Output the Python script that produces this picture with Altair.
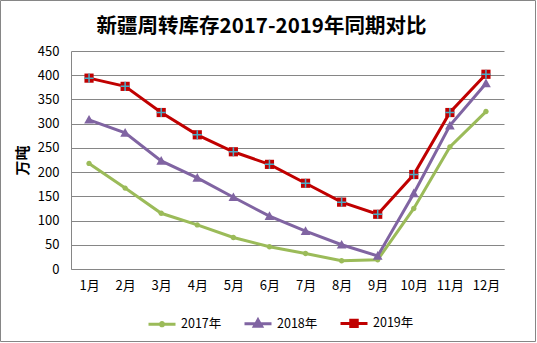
import altair as alt
import pandas as pd

months = ["1月", "2月", "3月", "4月", "5月", "6月", "7月", "8月", "9月", "10月", "11月", "12月"]
years = ["2017年", "2018年", "2019年"]
v2017 = [218, 167, 115, 91, 65, 46, 32, 17, 19, 125, 252, 325]
v2018 = [308, 281, 223, 188, 148, 109, 78, 50, 27, 156, 296, 383]
v2019 = [394, 377, 323, 277, 242, 216, 177, 138, 113, 195, 323, 402]
colors = ["#9BBB59", "#8064A2", "#C00000"]
y_ticks = [0, 50, 100, 150, 200, 250, 300, 350, 400, 450]

rows = []
for yr, vals in zip(years, [v2017, v2018, v2019]):
    for m, v in zip(months, vals):
        rows.append({"month": m, "year": yr, "value": v})
df = pd.DataFrame(rows)

FONT = "Noto Sans CJK SC"
GRAY = "#868686"
SYM = 729

# plot markers (filled)
shape_paths = [
    "M-0.2,0A0.2,0.2 0 1,0 0.2,0A0.2,0.2 0 1,0 -0.2,0Z",
    "M0,-0.36L0.36,0.28L-0.36,0.28Z",
    "M-0.34,-0.34H0.34V0.34H-0.34Z",
]
# legend symbols: line segment with marker (stroked)
legend_paths = [
    "M-1,0H1M-0.12,0A0.12,0.12 0 1,0 0.12,0A0.12,0.12 0 1,0 -0.12,0Z",
    "M-1,0H1M0,-0.28L0.27,0.2L-0.27,0.2ZM0,-0.08L0.08,0.06L-0.08,0.06Z",
    "M-1,0H1M-0.24,-0.24H0.24V0.24H-0.24ZM-0.08,-0.08H0.08V0.08H-0.08Z",
]

x_enc = alt.X("month:N", sort=months, scale=alt.Scale(type="point", padding=0.5),
              axis=alt.Axis(title=None, labelAngle=0, ticks=False, grid=False,
                            domainColor=GRAY, labelFont=FONT, labelFontSize=13,
                            labelColor="#000000", labelPadding=10))
y_enc = alt.Y("value:Q", scale=alt.Scale(domain=[0, 450], nice=False),
              axis=alt.Axis(values=y_ticks, title="万吨", ticks=False, gridColor=GRAY,
                            domainColor=GRAY, labelFont=FONT, labelFontSize=13,
                            labelColor="#000000", labelPadding=12,
                            titleFont=FONT, titleFontSize=15, titleFontWeight="bold",
                            titleColor="#000000", titleAngle=270, titleX=-49, titleY=109,
                            titleAlign="center", titleBaseline="middle"))

leg = alt.Legend(title=None, orient="none", legendX=76, legendY=257, direction="horizontal",
                 symbolSize=SYM, symbolStrokeWidth=3, labelFont=FONT, labelFontSize=12.5,
                 labelColor="#000000", columnPadding=16, labelOffset=4)

base = alt.Chart(df)

lines = base.mark_line(strokeWidth=3).encode(
    x=x_enc, y=y_enc,
    color=alt.Color("year:N", scale=alt.Scale(domain=years, range=colors), legend=None),
)

points = base.mark_point(filled=True, size=SYM, opacity=1, strokeWidth=0).encode(
    x=x_enc, y=y_enc,
    color=alt.Color("year:N", scale=alt.Scale(domain=years, range=colors), legend=None),
    shape=alt.Shape("year:N", scale=alt.Scale(domain=years, range=shape_paths), legend=None),
)

crosses = base.transform_filter(alt.datum.year == "2019年").mark_point(
    shape="M-0.34,0H0.34M0,-0.34V0.34", size=SYM, filled=False, stroke="#4BACC6",
    strokeWidth=1.5, opacity=1
).encode(x=x_enc, y=y_enc)

legend_layer = base.transform_filter("false").mark_point(
    filled=False, size=SYM, strokeWidth=3, opacity=1
).encode(
    x=x_enc, y=y_enc,
    color=alt.Color("year:N", scale=alt.Scale(domain=years, range=colors), legend=leg),
    shape=alt.Shape("year:N", scale=alt.Scale(domain=years, range=legend_paths), legend=leg),
)

frame = alt.Chart(pd.DataFrame({"a": [0]})).mark_rect(
    fill=None, stroke=GRAY, strokeWidth=1
).encode(x=alt.value(-70.5), x2=alt.value(464.5), y=alt.value(-50.5), y2=alt.value(290.5))

chart = alt.layer(lines, points, crosses, legend_layer, frame).resolve_scale(
    color="independent", shape="independent"
).properties(
    width=433, height=218,
    autosize=alt.AutoSizeParams(type="none"),
    padding={"left": 71, "top": 51, "right": 33, "bottom": 74},
    background="#FFFFFF",
    title=alt.TitleParams("新疆周转库存2017-2019年同期对比", font=FONT, fontSize=20.5,
                          fontWeight="bold", color="#000000", anchor="middle", frame="group",
                          dx=-26, offset=0, dy=53, baseline="alphabetic"),
).configure_view(stroke=None)

chart.save("out.html", embed_options={"renderer": "svg", "actions": False})
